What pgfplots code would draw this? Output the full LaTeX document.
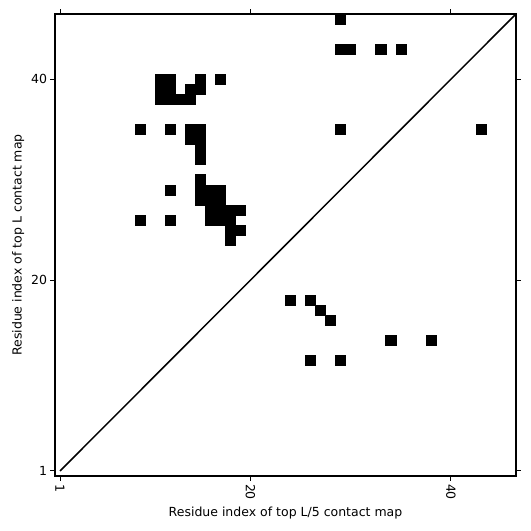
\documentclass[border=0pt]{standalone}
\usepackage{fontspec}
\setmainfont{DejaVu Sans}
\usepackage{pgfplots}
\pgfplotsset{compat=1.18}
\begin{document}
\begin{tikzpicture}
\path[use as bounding box] (-55bp,-55bp) rectangle (476bp,476bp);
\begin{axis}[
  at={(0,0)}, anchor=south west,
  scale only axis, width=461bp, height=462bp,
  xmin=0.5, xmax=46.5, ymin=0.5, ymax=46.5,
  xtick={1,20,40}, ytick={1,20,40},
  tick align=outside,
  major tick length=4.5bp,
  every tick/.style={black, line width=1bp},
  axis line style={line width=1.6bp},
  /pgf/number format/assume math mode=true,
  xticklabel style={rotate=-90, anchor=west, font=\fontsize{12.5bp}{15bp}\selectfont},
  yticklabel style={font=\fontsize{12.5bp}{15bp}\selectfont},
  label style={font=\fontsize{12.5bp}{15bp}\selectfont},
  xlabel={Residue index of top L/5 contact map},
  ylabel={Residue index of top L contact map},
]
\addplot[only marks, mark=square*, mark size=5.05bp, mark options={fill=black, draw=none}] coordinates {
(29,46)
(29,43) (30,43) (33,43) (35,43)
(11,40) (12,40) (15,40) (17,40)
(11,39) (12,39) (14,39) (15,39)
(11,38) (12,38) (13,38) (14,38)
(9,35) (12,35) (14,35) (15,35) (29,35) (43,35)
(14,34) (15,34)
(15,33)
(15,32)
(15,30)
(12,29) (15,29) (16,29) (17,29)
(15,28) (16,28) (17,28)
(16,27) (17,27) (18,27) (19,27)
(9,26) (12,26) (16,26) (17,26) (18,26)
(18,25) (19,25)
(18,24)
(24,18) (26,18)
(27,17)
(28,16)
(34,14) (38,14)
(26,12) (29,12)
};
\addplot[black, line width=1.5bp, no marks] coordinates {(1,1) (46.5,46.5)};
\end{axis}
\end{tikzpicture}
\end{document}
